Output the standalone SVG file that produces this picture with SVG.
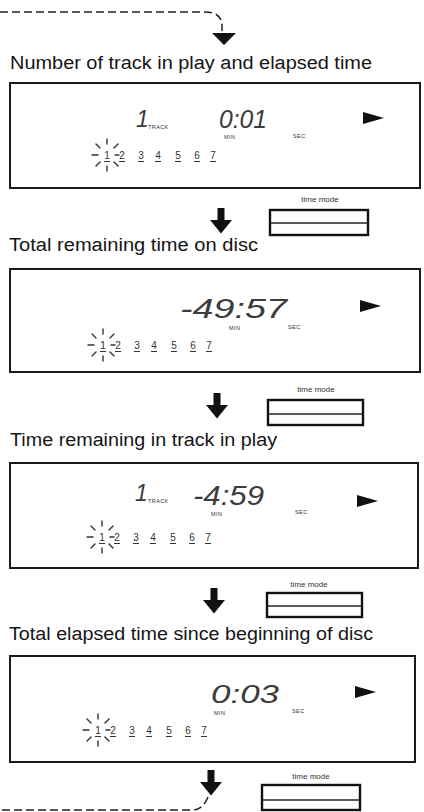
<svg xmlns="http://www.w3.org/2000/svg" xmlns:xlink="http://www.w3.org/1999/xlink" width="424" height="812" viewBox="0 0 424 812">
<style>
.h{font-family:"Liberation Sans",Arial,sans-serif;font-size:18px;fill:#151515}
.box{fill:#fff;stroke:#1a1a1a;stroke-width:2}
.lcd{font-family:"Liberation Sans",Arial,sans-serif;font-style:italic;fill:#3c3c3c}
.sm{font-family:"Liberation Sans",Arial,sans-serif;font-size:5.5px;fill:#333;letter-spacing:0.4px}
.tm{font-family:"Liberation Sans",Arial,sans-serif;font-size:8px;fill:#333;text-anchor:middle}
.btn{fill:#fff;stroke:#111;stroke-width:2.4}
.mid{stroke:#222;stroke-width:1.5}
.ray{stroke:#333;stroke-width:1.4;stroke-linecap:round}
.rd{font-family:"Liberation Sans",Arial,sans-serif;font-size:10px;fill:#333;text-anchor:middle}
.ul{stroke:#333;stroke-width:1.2}
.dash{fill:none;stroke:#222;stroke-width:1.5;stroke-dasharray:8 4}
.play{fill:#111}
.arr{fill:#111}
</style>
<defs>
<g id="row">
<line class="ray" x1="0" y1="-16" x2="0" y2="-11"/>
<line class="ray" x1="0" y1="11" x2="0" y2="16"/>
<line class="ray" x1="-15" y1="0" x2="-9" y2="0"/>
<line class="ray" x1="8" y1="0" x2="12" y2="0"/>
<line class="ray" x1="-11" y1="-11" x2="-7" y2="-7"/>
<line class="ray" x1="11" y1="-11" x2="7" y2="-7"/>
<line class="ray" x1="-11" y1="11" x2="-7" y2="7"/>
<line class="ray" x1="11" y1="11" x2="7" y2="7"/>
<text class="rd" x="0" y="4">1</text>
<text class="rd" x="15" y="4">2</text>
<text class="rd" x="34" y="4">3</text>
<text class="rd" x="51" y="4">4</text>
<text class="rd" x="71" y="4">5</text>
<text class="rd" x="90" y="4">6</text>
<text class="rd" x="106" y="4">7</text>
<path class="ul" d="M-3,6.5h6M12,6.5h6M31,6.5h6M48,6.5h6M68,6.5h6M87,6.5h6M103,6.5h6"/>
</g>
<path id="down" class="arr" d="M-3.5,0h7v12h7.5l-11,13.5l-11,-13.5h7.5z"/>
</defs>

<g id="connectors">
<path class="dash" d="M0,12H205Q222,12 222,26V31"/>
<path class="arr" d="M212,33H236L224,45z"/>
<use xlink:href="#down" x="221" y="208"/>
<use xlink:href="#down" x="217" y="393"/>
<use xlink:href="#down" x="214" y="588"/>
<use xlink:href="#down" x="211" y="770"/>
<path class="dash" d="M208,797Q203,810 192,810H0"/>
</g>

<g id="state1">
<text class="h" x="10" y="69" textLength="362" lengthAdjust="spacingAndGlyphs">Number of track in play and elapsed time</text>
<rect class="box" x="10" y="83" width="410" height="105"/>
<text class="lcd" x="136" y="127" font-size="23">1</text>
<text class="sm" x="148" y="129">TRACK</text>
<text class="lcd" x="219" y="128" font-size="26" textLength="48" lengthAdjust="spacingAndGlyphs">0:01</text>
<text class="sm" x="224" y="139">MIN</text>
<text class="sm" x="293" y="138">SEC</text>
<path class="play" d="M363,112L384,118L363,124z"/>
<use xlink:href="#row" x="107" y="155"/>
</g>

<g id="btn1">
<text class="tm" x="320" y="202">time mode</text>
<rect class="btn" x="270" y="210" width="98" height="25"/>
<line class="mid" x1="271" y1="223" x2="367" y2="223"/>
</g>

<g id="state2">
<text class="h" x="9" y="251" textLength="249" lengthAdjust="spacingAndGlyphs">Total remaining time on disc</text>
<rect class="box" x="10" y="269" width="410" height="103"/>
<text class="lcd" x="180" y="318" font-size="28" textLength="107" lengthAdjust="spacingAndGlyphs">-49:57</text>
<text class="sm" x="229" y="330">MIN</text>
<text class="sm" x="288" y="329">SEC</text>
<path class="play" d="M360,300L381,306L360,312z"/>
<use xlink:href="#row" x="103" y="345"/>
</g>

<g id="btn2">
<text class="tm" x="316" y="392">time mode</text>
<rect class="btn" x="268" y="400" width="95" height="25"/>
<line class="mid" x1="269" y1="414" x2="362" y2="414"/>
</g>

<g id="state3">
<text class="h" x="10" y="446" textLength="267" lengthAdjust="spacingAndGlyphs">Time remaining in track in play</text>
<rect class="box" x="10" y="463" width="408" height="105"/>
<text class="lcd" x="135" y="501" font-size="23">1</text>
<text class="sm" x="148" y="503">TRACK</text>
<text class="lcd" x="193" y="505" font-size="28" textLength="71" lengthAdjust="spacingAndGlyphs">-4:59</text>
<text class="sm" x="211" y="516">MIN</text>
<text class="sm" x="295" y="514">SEC</text>
<path class="play" d="M357,495L378,501L357,507z"/>
<use xlink:href="#row" x="102" y="537"/>
</g>

<g id="btn3">
<text class="tm" x="309" y="587">time mode</text>
<rect class="btn" x="267" y="593" width="95" height="24"/>
<line class="mid" x1="268" y1="606" x2="361" y2="606"/>
</g>

<g id="state4">
<text class="h" x="9" y="640" textLength="364" lengthAdjust="spacingAndGlyphs">Total elapsed time since beginning of disc</text>
<rect class="box" x="10" y="656" width="405" height="106"/>
<text class="lcd" x="211" y="703" font-size="26" textLength="68" lengthAdjust="spacingAndGlyphs">0:03</text>
<text class="sm" x="214" y="715">MIN</text>
<text class="sm" x="292" y="713">SEC</text>
<path class="play" d="M355,686L376,692L355,698z"/>
<use xlink:href="#row" x="98" y="730"/>
</g>

<g id="btn4">
<text class="tm" x="311" y="779">time mode</text>
<rect class="btn" x="262" y="785" width="98" height="25"/>
<line class="mid" x1="263" y1="800" x2="359" y2="800"/>
</g>
</svg>
